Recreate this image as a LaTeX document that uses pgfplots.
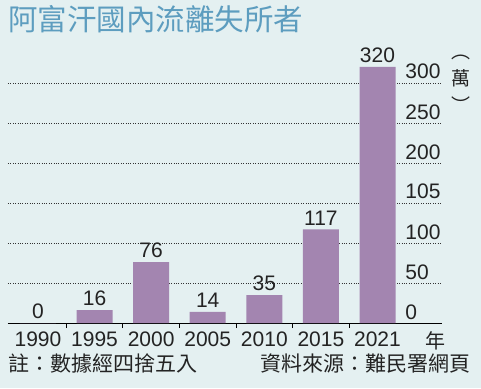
\documentclass[border=0pt]{standalone}
\usepackage{pgfplots}
\pgfplotsset{compat=1.18}
\usepackage{fontspec}
\setmainfont{Liberation Sans}
\newfontfamily\cjk{Noto Sans CJK TC}
\definecolor{bgc}{RGB}{228,240,241}
\definecolor{barc}{RGB}{163,133,176}
\definecolor{titlec}{RGB}{93,157,191}
\definecolor{txt}{RGB}{35,35,35}
\begin{document}
\begin{tikzpicture}[x=1pt,y=1pt]
\fill[bgc] (0,0) rectangle (481,388);
\node[anchor=base west,inner sep=0,text=titlec] at (8,357) {\cjk\fontsize{29.5}{32}\selectfont 阿富汗國內流離失所者};
\begin{axis}[
  at={(8pt,65pt)}, anchor=south west,
  scale only axis, width=434pt, height=272pt,
  xmin=-0.53, xmax=7.14, ymin=0, ymax=340,
  axis x line*=bottom, axis y line*=right,
  y axis line style={draw=none},
  x axis line style={line width=0.8pt,-},
  xtick={0,1,2,3,4,5,6},
  xticklabels={1990,1995,2000,2005,2010,2015,2021},
  minor xtick={0.5,1.5,2.5,3.5,4.5,5.5},
  major x tick style={draw=none},
  minor x tick style={line width=0.8pt,black},
  minor tick length=5pt,
  xtick pos=bottom,
  tick align=outside,
  xticklabel style={font=\fontsize{21}{24}\selectfont, text=txt, yshift=-1pt},
  ytick={0,50,100,150,200,250,300},
  yticklabels={0,50,100,105,200,250,300},
  yticklabel pos=right,
  major y tick style={draw=none},
  yticklabel style={font=\fontsize{21}{24}\selectfont, text=txt, anchor=base west, inner sep=0, xshift=-41pt, yshift=4pt},
  ymajorgrids,
  grid style={dotted, line width=0.7pt, black!80},
  /pgf/number format/assume math mode=true,
  nodes near coords,
  every node near coord/.append style={font=\fontsize{21}{24}\selectfont, text=txt, anchor=south, inner sep=0, yshift=4pt},
  clip=false,
]
\addplot[ybar, bar width=36pt, fill=barc, draw=none] coordinates {
  (0,0) (1,16) (2,76) (3,14) (4,35) (5,117) (6,320)
};
\end{axis}
\node[anchor=base west,inner sep=0,text=txt] at (425,40) {\cjk\fontsize{20}{24}\selectfont 年};
\node[anchor=north,inner sep=0,text=txt,align=center,font={\cjk\fontsize{19}{22}\selectfont}] at (461,333) {︵\\[5pt]萬\\[5pt]︶};
\node[anchor=base west,inner sep=0,text=txt] at (8,17) {\cjk\fontsize{21}{24}\selectfont 註：數據經四捨五入};
\node[anchor=base east,inner sep=0,text=txt] at (471,17) {\cjk\fontsize{21}{24}\selectfont 資料來源：難民署網頁};
\pgfresetboundingbox
\useasboundingbox (0,0) rectangle (481,388);
\end{tikzpicture}
\end{document}
